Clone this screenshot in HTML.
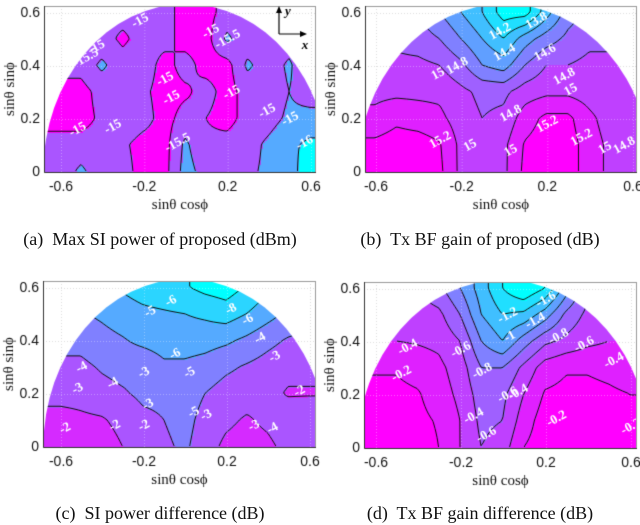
<!DOCTYPE html>
<html><head><meta charset="utf-8">
<style>
body{margin:0;background:#fff;width:640px;height:525px;position:relative;overflow:hidden;font-family:"Liberation Sans",sans-serif}
canvas{position:absolute;left:0;top:0}
.cap{position:absolute;font-family:"Liberation Serif",serif;font-size:18px;color:#111;white-space:nowrap;transform:translateX(-50%)}
</style></head>
<body>
<canvas id="cv" width="640" height="525"></canvas>
<div class="cap" style="left:160px;top:229px">(a)&nbsp; Max SI power of proposed (dBm)</div>
<div class="cap" style="left:480px;top:229px">(b)&nbsp; Tx BF gain of proposed (dB)</div>
<div class="cap" style="left:160px;top:503px">(c)&nbsp; SI power difference (dB)</div>
<div class="cap" style="left:480px;top:503px">(d)&nbsp; Tx BF gain difference (dB)</div>
<script>
// grid: x = -0.6..0.6 step 0.1 (13 cols), y = 0..0.6 step 0.1 (7 rows, bottom first)
const gridX=[-0.6,-0.5,-0.4,-0.3,-0.2,-0.1,0,0.1,0.2,0.3,0.4,0.5,0.6];
const gridY=[0,0.1,0.2,0.3,0.4,0.5,0.6];
const dataA=[
[-15.2,-15.6,-15.2,-15.2,-14.8,-14.8,-15.7,-15.3,-15.2,-15.4,-15.6,-15.8,-16.3],
[-15.2,-15.2,-15.2,-15.1,-14.8,-14.8,-15.6,-15.1,-15.2,-15.3,-15.6,-15.9,-16.1],
[-14.8,-14.8,-15.1,-15.4,-15.2,-14.8,-15.2,-15.0,-14.8,-15.2,-15.3,-15.6,-15.7],
[-14.8,-14.8,-15.2,-15.2,-15.1,-14.8,-14.9,-15.2,-14.8,-15.2,-15.2,-15.5,-15.2],
[-15.2,-15.2,-15.6,-15.2,-15.3,-14.8,-15.2,-14.8,-14.8,-15.6,-15.2,-15.6,-14.9],
[-15.2,-14.8,-15.2,-14.9,-15.2,-15.2,-14.8,-14.8,-15.6,-15.2,-15.2,-15.2,-15.2],
[-15.2,-15.2,-15.2,-15.2,-15.2,-15.2,-14.8,-14.8,-15.2,-15.2,-15.2,-15.2,-15.2]];
const dataB=[
[15.25,15.3,15.3,15.25,14.95,14.9,14.95,15.25,15.3,15.3,15.1,14.95,14.8],
[15.25,15.3,15.3,15.22,14.95,14.85,14.95,15.22,15.3,15.3,15.1,14.95,14.8],
[15.05,15.15,15.1,15.05,14.9,14.8,14.85,15.1,15.25,15.25,15.05,14.9,14.8],
[14.95,14.95,14.95,14.95,14.85,14.75,14.75,14.9,14.95,14.95,14.9,14.85,14.85],
[14.85,14.85,14.85,14.8,14.65,14.4,14.3,14.6,14.8,14.8,14.85,14.85,14.85],
[14.75,14.75,14.7,14.6,14.4,14.2,14.0,14.3,14.5,14.65,14.75,14.75,14.75],
[14.7,14.7,14.6,14.4,14.2,14.0,13.7,13.7,14.1,14.5,14.65,14.7,14.7]];
const dataC=[
[-2.2,-2.3,-2.5,-3.0,-3.3,-3.8,-4.2,-3.4,-2.8,-2.6,-2.8,-3.3,-3.6],
[-2.6,-2.8,-2.9,-3.3,-3.8,-4.0,-4.4,-3.6,-3.2,-2.9,-3.2,-3.6,-3.8],
[-3.4,-3.4,-3.7,-3.9,-4.2,-4.2,-4.6,-4.0,-3.6,-3.4,-3.3,-2.9,-2.9],
[-3.8,-3.8,-4.1,-4.3,-4.2,-4.8,-4.8,-4.6,-4.2,-3.9,-3.6,-3.3,-3.3],
[-4.3,-4.3,-4.6,-4.9,-5.3,-5.5,-5.5,-5.4,-5.2,-4.8,-4.3,-3.9,-3.7],
[-4.8,-4.9,-5.2,-5.6,-5.8,-5.9,-6.0,-6.2,-6.5,-6.0,-5.4,-4.8,-4.5],
[-5.3,-5.4,-5.8,-6.1,-6.4,-6.6,-6.9,-7.3,-7.5,-6.9,-6.2,-5.5,-5.3]];
const dataD=[
[-0.1,-0.1,-0.1,-0.2,-0.4,-0.6,-0.5,-0.2,-0.1,-0.1,-0.1,-0.15,-0.2],
[-0.1,-0.1,-0.15,-0.22,-0.4,-0.65,-0.6,-0.3,-0.1,-0.1,-0.1,-0.15,-0.2],
[-0.15,-0.15,-0.18,-0.3,-0.45,-0.7,-0.65,-0.4,-0.18,-0.15,-0.15,-0.17,-0.2],
[-0.22,-0.22,-0.28,-0.35,-0.5,-0.8,-0.8,-0.55,-0.3,-0.22,-0.22,-0.25,-0.3],
[-0.4,-0.4,-0.42,-0.45,-0.6,-1.0,-1.2,-0.9,-0.65,-0.55,-0.45,-0.4,-0.4],
[-0.5,-0.5,-0.5,-0.55,-0.8,-1.2,-1.4,-1.35,-1.1,-0.75,-0.55,-0.5,-0.5],
[-0.55,-0.55,-0.6,-0.75,-1.0,-1.3,-1.6,-1.8,-1.6,-1.1,-0.65,-0.55,-0.55]];
const levelsA=[-16,-15.5,-15];
const levelsB=[13.8,14.0,14.2,14.4,14.6,14.8,15.0,15.2];
const levelsC=[-7,-6,-5,-4,-3,-2];
const levelsD=[-1.6,-1.4,-1.2,-1.0,-0.8,-0.6,-0.4,-0.2];
const labelsA=["-15","-15","-15.5","-15","-15","-15","-15","-15.5","-15","-15","-15","-15.5","-15","-16"];
const labelXA=[-0.22,0.12,-0.48,-0.43,-0.1,-0.07,0.22,0.2,-0.35,0.39,-0.52,-0.04,0.5,0.57];
const labelYA=[0.57,0.53,0.43,0.47,0.35,0.28,0.3,0.5,0.17,0.23,0.16,0.11,0.2,0.11];
const labelsB=["13.8","14.2","14.4","14.6","14.8","15","15.2","15","14.8","15","15.2","15.2","15","14.8","14.8","15"];
const labelXB=[0.15,-0.02,0,0.19,-0.22,-0.31,-0.3,-0.16,0.03,0.03,0.2,0.36,0.47,0.56,0.28,0.31];
const labelYB=[0.57,0.53,0.45,0.45,0.4,0.37,0.12,0.1,0.22,0.08,0.18,0.13,0.09,0.1,0.36,0.31];
const labelsC=["-6","-5","-8","-6","-4","-4","-6","-5","-3","-4","-3","-3","-2","-2","-2","-3","-5","-3","-4","-2","-3"];
const labelXC=[-0.07,-0.17,0.22,0.3,0.36,-0.5,-0.05,0.02,-0.2,-0.35,-0.52,0.43,-0.58,-0.34,-0.2,-0.18,0.04,0.1,0.42,0.55,0.33];
const labelYC=[0.55,0.51,0.52,0.48,0.41,0.3,0.35,0.28,0.28,0.24,0.22,0.34,0.07,0.08,0.08,0.16,0.13,0.12,0.07,0.21,0.08];
const labelsD=["-1.6","-1.4","-1.2","-1","-0.8","-0.6","-0.4","-0.2","-0.6","-0.8","-0.6","-0.4","-0.2","-0.4","-0.6","-0.2","-0.4"];
const labelXD=[0.2,0.15,0.02,0.03,0.26,0.38,-0.45,-0.48,-0.2,-0.1,0.02,0.07,0.25,-0.14,-0.08,0.6,0.52];
const labelYD=[0.56,0.48,0.5,0.42,0.42,0.39,0.38,0.28,0.37,0.29,0.2,0.21,0.11,0.12,0.05,0.08,0.33];

const panels=[
 {name:"a",data:dataA,levels:levelsA,lab:labelsA,lx:labelXA,ly:labelYA,left:44,right:316,bottom:172,xa:61,xb:311,inset:true},
 {name:"b",data:dataB,levels:levelsB,lab:labelsB,lx:labelXB,ly:labelYB,left:365,right:637,bottom:172,xa:376,xb:633},
 {name:"c",data:dataC,levels:levelsC,lab:labelsC,lx:labelXC,ly:labelYC,left:43,right:316,bottom:447,xa:61,xb:310},
 {name:"d",data:dataD,levels:levelsD,lab:labelsD,lx:labelXD,ly:labelYD,left:364,right:637,bottom:448,xa:376,xb:631}];

const cv=document.getElementById('cv');const ctx=cv.getContext('2d');
function interp(data,u,v){
 let fx=(u-gridX[0])/0.1, fy=(v-gridY[0])/0.1;
 fx=Math.max(0,Math.min(gridX.length-1.0001,fx)); fy=Math.max(0,Math.min(gridY.length-1.0001,fy));
 const i=Math.floor(fx),j=Math.floor(fy),tx=fx-i,ty=fy-j;
 const a=data[j][i],b=data[j][i+1],c=data[j+1][i],d=data[j+1][i+1];
 return a*(1-tx)*(1-ty)+b*tx*(1-ty)+c*(1-tx)*ty+d*tx*ty;
}
function cool(t){return `rgb(${Math.round(t*255)},${Math.round((1-t)*255)},255)`;}
panels.forEach(p=>{
 const sx=(p.xb-p.xa)/1.2, x0=(p.xa+p.xb)/2, sy=159/0.6, top=p.bottom-166;
 const X=u=>x0+u*sx, Y=v=>p.bottom-v*sy;
 const U=px=>(px-x0)/sx, V=py=>(p.bottom-py)/sy;
 ctx.save();ctx.strokeStyle='#ddd';ctx.setLineDash([1,2]);ctx.lineWidth=1;
 [-0.6,-0.2,0.2,0.6].forEach(u=>{ctx.beginPath();ctx.moveTo(X(u)+.5,top);ctx.lineTo(X(u)+.5,p.bottom);ctx.stroke();});
 [0.2,0.4,0.6].forEach(v=>{ctx.beginPath();ctx.moveTo(p.left,Y(v)+.5);ctx.lineTo(p.right,Y(v)+.5);ctx.stroke();});
 ctx.restore();
 ctx.save();ctx.beginPath();ctx.rect(p.left,top,p.right-p.left,p.bottom-top);ctx.clip();
 ctx.beginPath();ctx.ellipse(x0,p.bottom,0.685*sx,168,0,Math.PI,2*Math.PI);ctx.closePath();ctx.clip();
 const st=2, L=p.levels, nb=L.length;
 const nx=Math.ceil((p.right-p.left)/st)+1, ny=Math.ceil((p.bottom-top)/st)+1;
 const F=[];
 for(let j=0;j<ny;j++){F.push([]);for(let i=0;i<nx;i++)F[j].push(interp(p.data,U(p.left+i*st),V(top+j*st)));}
 for(let j=0;j<ny;j++)for(let i=0;i<nx;i++){
  const v=F[j][i];let k=0;L.forEach(l=>{if(v>=l)k++;});
  ctx.fillStyle=cool(k/nb);ctx.fillRect(p.left+i*st-1,top+j*st-1,st,st);
 }
 ctx.strokeStyle='#111';ctx.lineWidth=1;ctx.beginPath();
 for(let j=0;j<ny-1;j++)for(let i=0;i<nx-1;i++){
  const c=[[i,j],[i+1,j],[i+1,j+1],[i,j+1]];
  L.forEach(l=>{
   const pts=[];
   for(let e=0;e<4;e++){const A=c[e],B=c[(e+1)%4];const va=F[A[1]][A[0]],vb=F[B[1]][B[0]];
    if((va-l)*(vb-l)<0){const t=(l-va)/(vb-va);pts.push([p.left+(A[0]+(B[0]-A[0])*t)*st-1,top+(A[1]+(B[1]-A[1])*t)*st-1]);}}
   for(let q=0;q+1<pts.length;q+=2){ctx.moveTo(pts[q][0],pts[q][1]);ctx.lineTo(pts[q+1][0],pts[q+1][1]);}
  });
 }
 ctx.stroke();
 ctx.strokeStyle='rgba(255,255,255,0.35)';ctx.setLineDash([1,2]);
 [-0.6,-0.2,0.2,0.6].forEach(u=>{ctx.beginPath();ctx.moveTo(X(u)+.5,top);ctx.lineTo(X(u)+.5,p.bottom);ctx.stroke();});
 [0.2,0.4,0.6].forEach(v=>{ctx.beginPath();ctx.moveTo(p.left,Y(v)+.5);ctx.lineTo(p.right,Y(v)+.5);ctx.stroke();});
 ctx.setLineDash([]);
 ctx.fillStyle='#fff';ctx.font='bold 13px "Liberation Serif",serif';ctx.textAlign='center';ctx.textBaseline='middle';
 p.lab.forEach((s,n)=>{ctx.save();ctx.translate(X(p.lx[n]),Y(p.ly[n]));ctx.rotate(-0.5);ctx.fillText(s,0,0);ctx.restore();});
 ctx.restore();
 ctx.strokeStyle='#999';ctx.lineWidth=1;ctx.strokeRect(p.left+.5,top+.5,p.right-p.left-1,p.bottom-top);
 ctx.strokeStyle='#333';ctx.beginPath();ctx.moveTo(p.left+.5,top);ctx.lineTo(p.left+.5,p.bottom+.5);ctx.lineTo(p.right,p.bottom+.5);ctx.stroke();
 ctx.fillStyle='#111';ctx.font='14px "Liberation Sans",sans-serif';ctx.textAlign='center';ctx.textBaseline='middle';
 ["-0.6","-0.2","0.2","0.6"].forEach((s,n)=>ctx.fillText(s,X([-0.6,-0.2,0.2,0.6][n]),p.bottom+15));
 ctx.textAlign='right';
 ["0","0.2","0.4","0.6"].forEach((s,n)=>ctx.fillText(s,p.left-4,Y([0,0.2,0.4,0.6][n])));
 ctx.font='15px "Liberation Serif",serif';ctx.textAlign='center';
 ctx.fillText('sinθ cosϕ',(p.left+p.right)/2,p.bottom+33);
 ctx.save();ctx.translate(p.left-34,p.bottom-83);ctx.rotate(-Math.PI/2);ctx.fillText('sinθ sinϕ',0,0);ctx.restore();
 if(p.inset){
  ctx.strokeStyle='#000';ctx.lineWidth=1.2;ctx.beginPath();ctx.moveTo(279,34);ctx.lineTo(279,10);ctx.moveTo(279,34);ctx.lineTo(304,34);ctx.stroke();
  ctx.fillStyle='#000';ctx.beginPath();ctx.moveTo(276,13);ctx.lineTo(279,6);ctx.lineTo(282,13);ctx.fill();
  ctx.beginPath();ctx.moveTo(300,31);ctx.lineTo(307,34);ctx.lineTo(300,37);ctx.fill();
  ctx.font='italic bold 13px "Liberation Serif",serif';ctx.fillText('y',288,12);ctx.fillText('x',305,46);
 }
});
</script>
</body></html>
